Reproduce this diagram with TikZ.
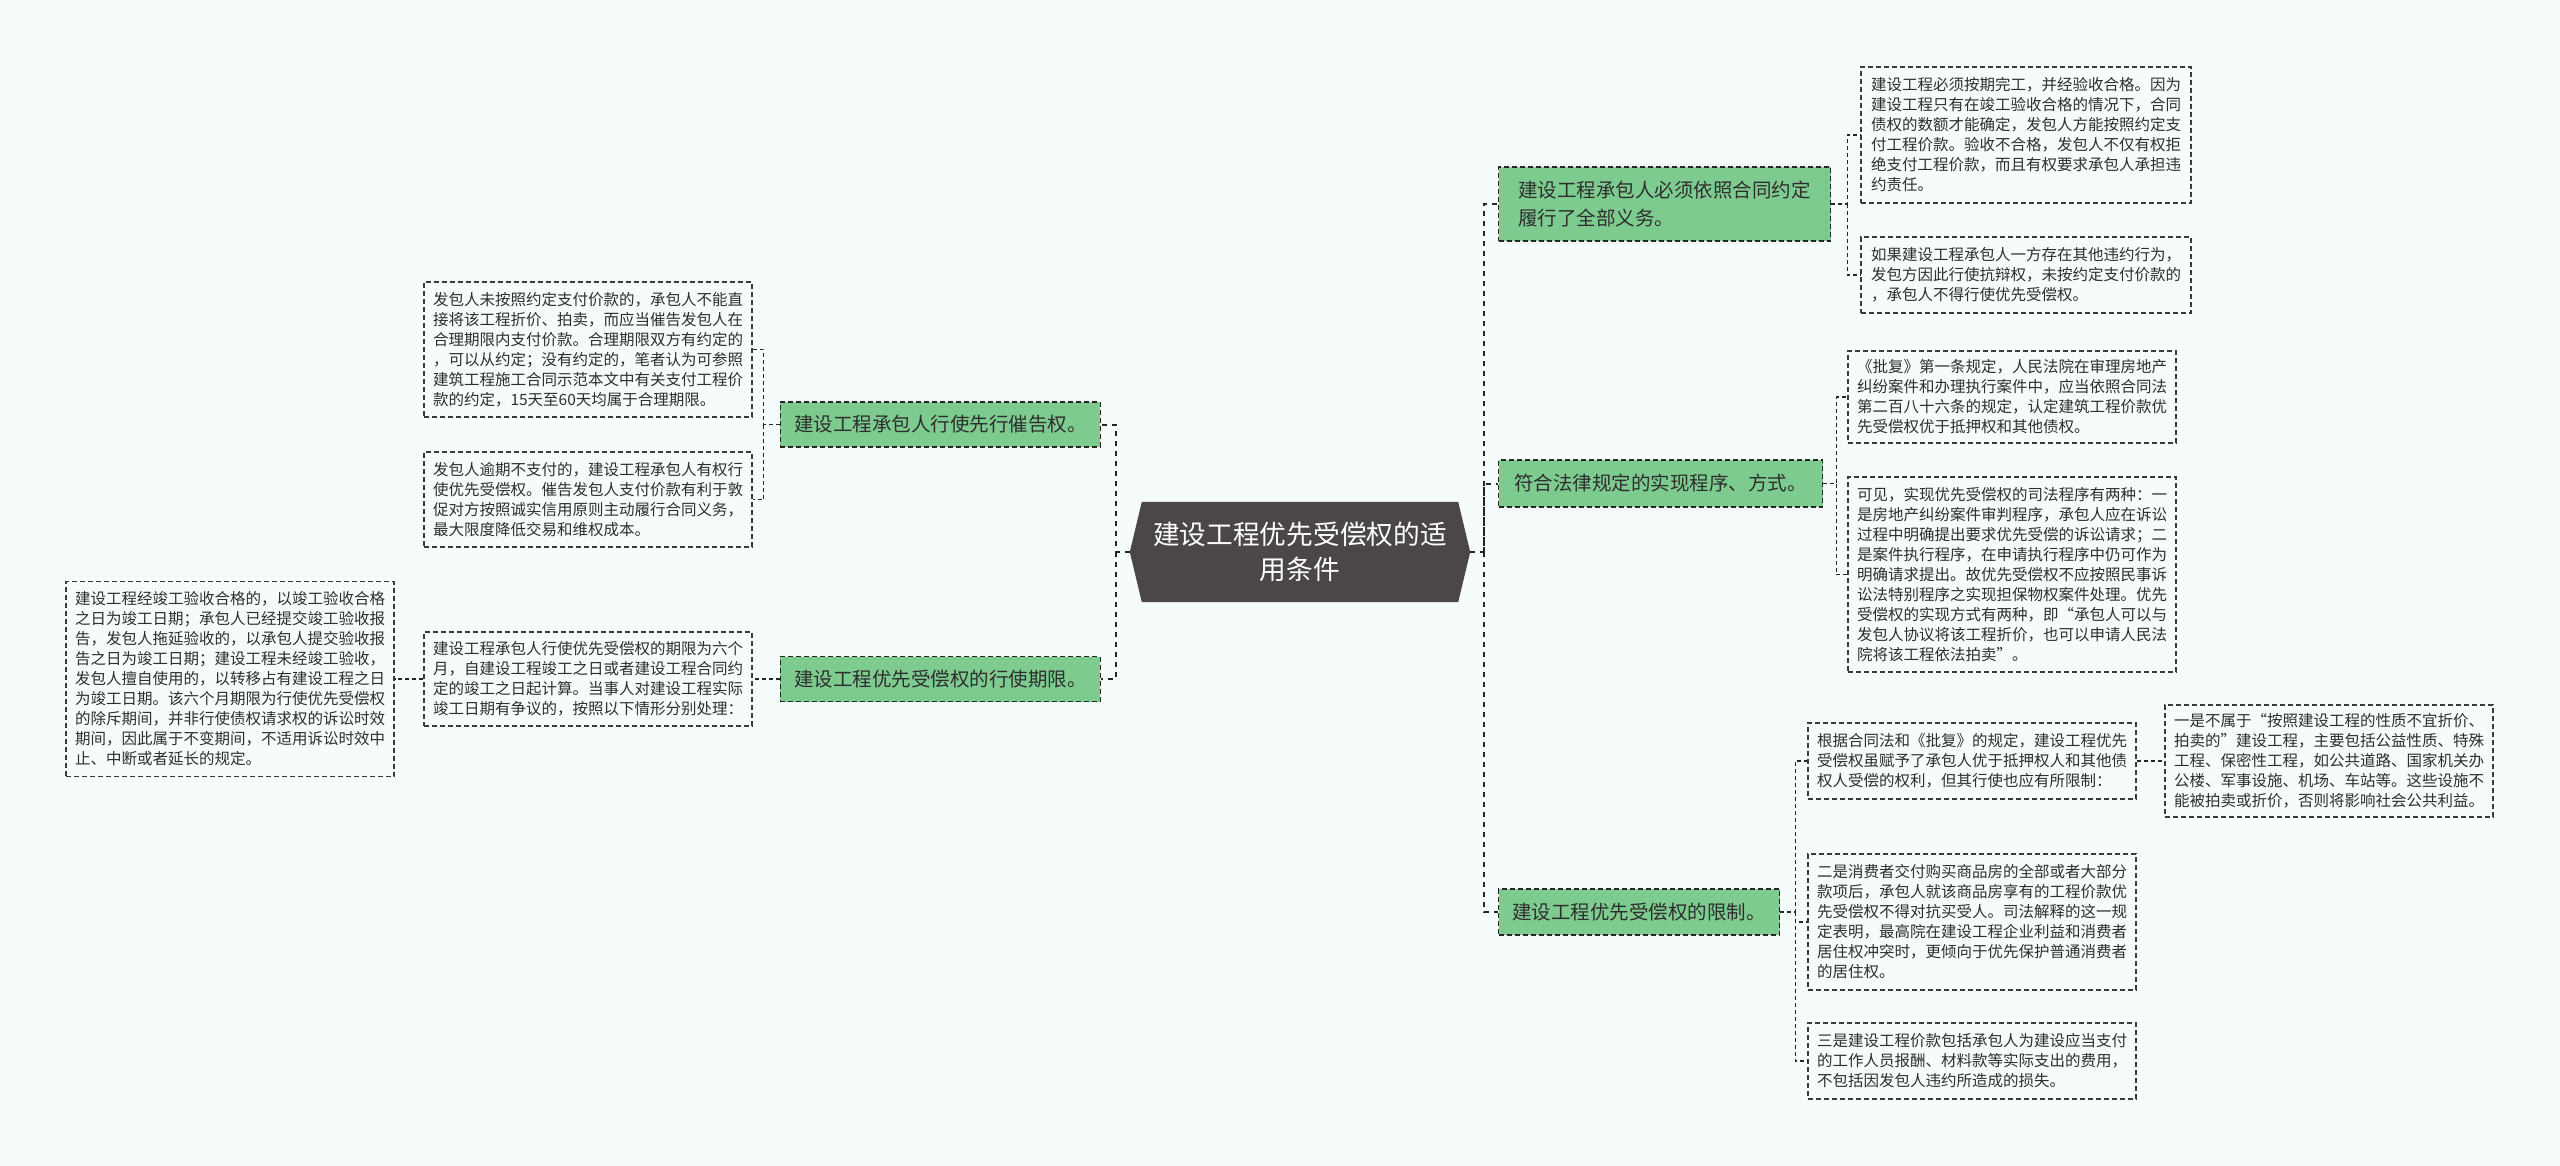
\documentclass[tikz,border=0pt]{standalone}
\usepackage{fontspec}
\setmainfont{Noto Sans CJK SC}
\usetikzlibrary{backgrounds}
\definecolor{bgc}{HTML}{F6FBFC}
\definecolor{greenfill}{HTML}{7ECB8F}
\definecolor{rootfill}{HTML}{4B4647}
\definecolor{linec}{HTML}{262626}
\definecolor{boxline}{HTML}{3A3A3A}
\definecolor{txt}{HTML}{2E2E2E}
\tikzset{
  greenbox/.style={draw=linec, fill=greenfill, line width=1.3pt, dash pattern=on 5pt off 3pt, text=txt,
    font=\fontsize{19.5}{28}\selectfont, inner xsep=12pt, inner ysep=0pt, align=left, minimum height=45pt},
  textbox/.style={draw=boxline, line width=1.2pt, dash pattern=on 5pt off 3pt, text=txt,
    font=\fontsize{15.5}{20}\selectfont, align=left, inner xsep=8pt, inner ysep=0pt, minimum width=328pt},
  trunk/.style={draw=linec, line width=2pt, dash pattern=on 5pt off 5pt},
  twig/.style={draw=linec, line width=1.5pt, dash pattern=on 4pt off 3pt},
}
\begin{document}
\begin{tikzpicture}[x=1pt, y=-1pt]
\useasboundingbox (0,0) rectangle (2560,1166);

% root
\node[font=\fontsize{26.7}{35}\selectfont, text=white, align=center, minimum width=340pt, minimum height=100pt, inner sep=0pt] (root) at (1300,552) {建设工程优先受偿权的适\\用条件};

% left branches
\node[greenbox, minimum width=320pt, anchor=east] (A) at (1101,424.5) {建设工程承包人行使先行催告权。};
\node[greenbox, minimum width=320pt, anchor=east] (B) at (1101,679) {建设工程优先受偿权的行使期限。};

\node[textbox, minimum height=135pt] (A1) at (588,349.5) {发包人未按照约定支付价款的，承包人不能直\\接将该工程折价、拍卖，而应当催告发包人在\\合理期限内支付价款。合理期限双方有约定的\\，可以从约定；没有约定的，笔者认为可参照\\建筑工程施工合同示范本文中有关支付工程价\\款的约定，15天至60天均属于合理期限。};
\node[textbox, minimum height=95pt] (A2) at (588,499.5) {发包人逾期不支付的，建设工程承包人有权行\\使优先受偿权。催告发包人支付价款有利于敦\\促对方按照诚实信用原则主动履行合同义务，\\最大限度降低交易和维权成本。};
\node[textbox, minimum height=94pt] (B1) at (588,679) {建设工程承包人行使优先受偿权的期限为六个\\月，自建设工程竣工之日或者建设工程合同约\\定的竣工之日起计算。当事人对建设工程实际\\竣工日期有争议的，按照以下情形分别处理：};
\node[textbox, minimum height=195pt] (B2) at (230,679) {建设工程经竣工验收合格的，以竣工验收合格\\之日为竣工日期；承包人已经提交竣工验收报\\告，发包人拖延验收的，以承包人提交验收报\\告之日为竣工日期；建设工程未经竣工验收，\\发包人擅自使用的，以转移占有建设工程之日\\为竣工日期。该六个月期限为行使优先受偿权\\的除斥期间，并非行使债权请求权的诉讼时效\\期间，因此属于不变期间，不适用诉讼时效中\\止、中断或者延长的规定。};

% right branches
\node[greenbox, minimum width=332pt, minimum height=74pt, anchor=west] (C) at (1498,204) {建设工程承包人必须依照合同约定\\履行了全部义务。};
\node[greenbox, minimum width=324pt, minimum height=47pt, anchor=west] (D) at (1498,483.5) {符合法律规定的实现程序、方式。};
\node[greenbox, minimum width=281pt, minimum height=46pt, anchor=west] (E) at (1498,912) {建设工程优先受偿权的限制。};

\node[textbox, minimum width=330pt, minimum height=136pt] (C1) at (2026,135) {建设工程必须按期完工，并经验收合格。因为\\建设工程只有在竣工验收合格的情况下，合同\\债权的数额才能确定，发包人方能按照约定支\\付工程价款。验收不合格，发包人不仅有权拒\\绝支付工程价款，而且有权要求承包人承担违\\约责任。};
\node[textbox, minimum width=330pt, minimum height=76pt] (C2) at (2026,275) {如果建设工程承包人一方存在其他违约行为，\\发包方因此行使抗辩权，未按约定支付价款的\\，承包人不得行使优先受偿权。};

\node[textbox, minimum height=92pt] (D1) at (2012,397) {《批复》第一条规定，人民法院在审理房地产\\纠纷案件和办理执行案件中，应当依照合同法\\第二百八十六条的规定，认定建筑工程价款优\\先受偿权优于抵押权和其他债权。};
\node[textbox, minimum height=195pt] (D2) at (2012,574.5) {可见，实现优先受偿权的司法程序有两种：一\\是房地产纠纷案件审判程序，承包人应在诉讼\\过程中明确提出要求优先受偿的诉讼请求；二\\是案件执行程序，在申请执行程序中仍可作为\\明确请求提出。故优先受偿权不应按照民事诉\\讼法特别程序之实现担保物权案件处理。优先\\受偿权的实现方式有两种，即“承包人可以与\\发包人协议将该工程折价，也可以申请人民法\\院将该工程依法拍卖”。};

\node[textbox, minimum height=76pt] (E1) at (1972,761) {根据合同法和《批复》的规定，建设工程优先\\受偿权虽赋予了承包人优于抵押权人和其他债\\权人受偿的权利，但其行使也应有所限制：};
\node[textbox, minimum height=112pt] (E1a) at (2329,761) {一是不属于“按照建设工程的性质不宜折价、\\拍卖的”建设工程，主要包括公益性质、特殊\\工程、保密性工程，如公共道路、国家机关办\\公楼、军事设施、机场、车站等。这些设施不\\能被拍卖或折价，否则将影响社会公共利益。};
\node[textbox, minimum height=136pt] (E2) at (1972,922) {二是消费者交付购买商品房的全部或者大部分\\款项后，承包人就该商品房享有的工程价款优\\先受偿权不得对抗买受人。司法解释的这一规\\定表明，最高院在建设工程企业利益和消费者\\居住权冲突时，更倾向于优先保护普通消费者\\的居住权。};
\node[textbox, minimum height=76pt] (E3) at (1972,1061) {三是建设工程价款包括承包人为建设应当支付\\的工作人员报酬、材料款等实际支出的费用，\\不包括因发包人违约所造成的损失。};

% background and root hexagon
\begin{scope}[on background layer]
  \fill[bgc] (0,0) rectangle (2560,1166);
  \fill[rootfill] (root.west) -- ([xshift=12pt]root.north west) -- ([xshift=-12pt]root.north east) -- (root.east) -- ([xshift=-12pt]root.south east) -- ([xshift=12pt]root.south west) -- cycle;
\end{scope}

% connectors from root
\draw[trunk] (root.west) -- ([xshift=-14pt]root.west) |- (A.east);
\draw[trunk] ([xshift=-14pt]root.west) |- (B.east);
\draw[trunk] (root.east) -- ([xshift=14pt]root.east) |- (C.west);
\draw[trunk] ([xshift=14pt]root.east) |- (D.west);
\draw[trunk] ([xshift=14pt]root.east) |- (E.west);

% left children
\draw[twig] (A.west) -- ([xshift=-16pt]A.west) |- (A1.east);
\draw[twig] ([xshift=-16pt]A.west) |- (A2.east);
\draw[twig] (B.west) -- (B1.east);
\draw[twig] (B1.west) -- (B2.east);

% right children
\draw[twig] (C.east) -- ([xshift=16pt]C.east) |- (C1.west);
\draw[twig] ([xshift=16pt]C.east) |- (C2.west);
\draw[twig] (D.east) -- ([xshift=13pt]D.east) |- (D1.west);
\draw[twig] ([xshift=13pt]D.east) |- (D2.west);
\draw[twig] (E.east) -- ([xshift=15pt]E.east) |- (E1.west);
\draw[twig] ([xshift=15pt]E.east) |- (E2.west);
\draw[twig] ([xshift=15pt]E.east) |- (E3.west);
\draw[twig] (E1.east) -- (E1a.west);
\end{tikzpicture}
\end{document}
